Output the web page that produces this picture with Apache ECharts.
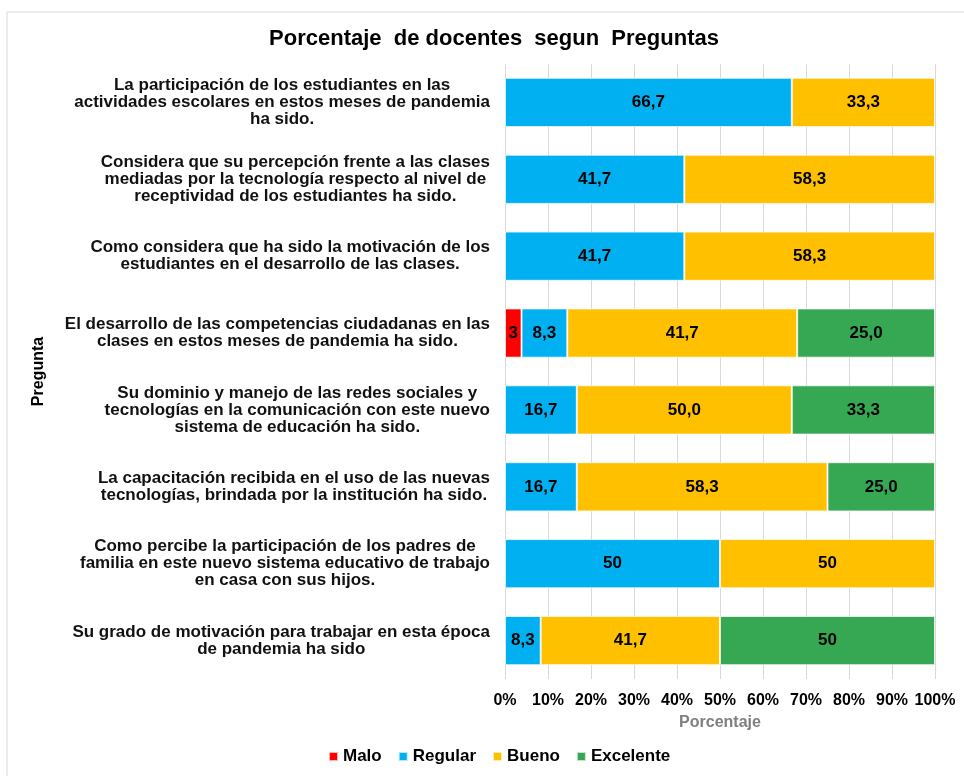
<!DOCTYPE html>
<html>
<head>
<meta charset="utf-8">
<script src="https://cdn.jsdelivr.net/npm/echarts@6/dist/echarts.min.js"></script>
<style>html,body{margin:0;padding:0;background:#fff}#c{width:964px;height:776px}</style>
</head>
<body>
<div id="c"></div>
<script>
const categories = [
  "La participación de los estudiantes en las\nactividades escolares en estos meses de pandemia\nha sido.",
  "Considera que su percepción frente a las clases\nmediadas por la tecnología respecto al nivel de\nreceptividad de los estudiantes ha sido.",
  "Como considera que ha sido la motivación de los\nestudiantes en el desarrollo de las clases.",
  "El desarrollo de las competencias ciudadanas en las\nclases en estos meses de pandemia ha sido.",
  "Su dominio y manejo de las redes sociales y\ntecnologías en la comunicación con este nuevo\nsistema de educación ha sido.",
  "La capacitación recibida en el uso de las nuevas\ntecnologías, brindada por la institución ha sido.",
  "Como percibe la participación de los padres de\nfamilia en este nuevo sistema educativo de trabajo\nen casa con sus hijos.",
  "Su grado de motivación para trabajar en esta época\nde pandemia ha sido"
];
const seriesNames = ["Malo", "Regular", "Bueno", "Excelente"];
const malo      = [null, null, null, 3,    null, null, null, null];
const regular   = [66.7, 41.7, 41.7, 8.3,  16.7, 16.7, 50,   8.3];
const bueno     = [33.3, 58.3, 58.3, 41.7, 50.0, 58.3, 50,   41.7];
const excelente = [null, null, null, 25.0, 33.3, 25.0, null, 50];
const maloLabels      = ["", "", "", "3", "", "", "", ""];
const regularLabels   = ["66,7", "41,7", "41,7", "8,3", "16,7", "16,7", "50", "8,3"];
const buenoLabels     = ["33,3", "58,3", "58,3", "41,7", "50,0", "58,3", "50", "41,7"];
const excelenteLabels = ["", "", "", "25,0", "33,3", "25,0", "", "50"];
const xTicks = [0, 10, 20, 30, 40, 50, 60, 70, 80, 90, 100];

const colors = ["#FF0000", "#00B0F0", "#FFC000", "#36A853"];
const raw = [malo, regular, bueno, excelente];
const labels = [maloLabels, regularLabels, buenoLabels, excelenteLabels];
const totals = categories.map((_, i) => raw.reduce((s, arr) => s + (arr[i] || 0), 0));

const FONT = '"Liberation Sans", Arial, sans-serif';

const series = seriesNames.map((name, k) => ({
  name,
  type: 'bar',
  stack: 'total',
  barCategoryGap: '36%',
  itemStyle: { color: colors[k], borderColor: 'rgba(255,255,255,0.7)', borderWidth: 1 },
  label: {
    show: true,
    position: 'inside',
    color: '#000',
    fontFamily: FONT,
    fontWeight: 'bold',
    fontSize: 17,
    formatter: p => labels[k][p.dataIndex]
  },
  data: raw[k].map((v, i) => v == null ? null : v / totals[i] * 100)
}));

const chart = echarts.init(document.getElementById('c'));
chart.setOption({
  animation: false,
  backgroundColor: '#fff',
  textStyle: { fontFamily: FONT },
  graphic: [{
    type: 'rect',
    shape: { x: 7, y: 12, width: 1000, height: 800 },
    style: { fill: 'none', stroke: '#d9d9d9', lineWidth: 1 },
    silent: true
  }],
  title: {
    text: 'Porcentaje  de docentes  segun  Preguntas',
    left: 489, textAlign: 'center', top: 23,
    textStyle: { fontFamily: FONT, fontWeight: 'bold', fontSize: 22, color: '#000' }
  },
  legend: {
    bottom: 6, left: 323,
    itemWidth: 9, itemHeight: 9, itemGap: 16,
    icon: 'rect',
    textStyle: { fontFamily: FONT, fontWeight: 'bold', fontSize: 17, color: '#000' },
    data: seriesNames
  },
  grid: { left: 505, right: 29, top: 64, bottom: 97, containLabel: false },
  xAxis: {
    type: 'value', min: 0, max: 100, interval: 10,
    name: 'Porcentaje', nameLocation: 'middle', nameGap: 36,
    nameTextStyle: { fontFamily: FONT, fontWeight: 'bold', fontSize: 16, color: '#7f7f7f' },
    axisLine: { show: false }, axisTick: { show: false },
    splitLine: { show: true, lineStyle: { color: '#d9d9d9', width: 1 } },
    axisLabel: { margin: 14, color: '#000', fontFamily: FONT, fontWeight: 'bold', fontSize: 16,
      formatter: v => xTicks.includes(v) ? v + '%' : '' }
  },
  yAxis: {
    type: 'category', inverse: true, data: categories,
    name: 'Pregunta', nameLocation: 'middle', nameGap: 458, nameRotate: 90,
    nameTextStyle: { fontFamily: FONT, fontWeight: 'bold', fontSize: 16, color: '#000' },
    axisLine: { show: false }, axisTick: { show: false },
    axisLabel: {
      margin: 15, interval: 0,
      formatter: v => v.split('\n').map(l => '{c|' + l + '}').join('\n'),
      rich: { c: { align: 'center', fontFamily: FONT, fontWeight: 'bold', fontSize: 17, lineHeight: 17, color: '#111' } }
    }
  },
  series
});
</script>
</body>
</html>
